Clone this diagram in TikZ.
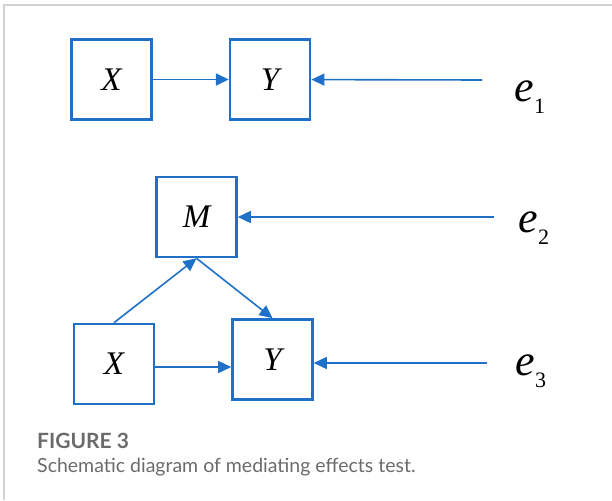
\documentclass[tikz,border=0pt]{standalone}
\usepackage{fontspec}
\setmainfont{Liberation Serif}
\newfontfamily\capfont{Lato}
\usepackage{tikz}
\usetikzlibrary{arrows.meta,positioning}

\definecolor{boxblue}{HTML}{1F70C8}
\definecolor{capgray}{HTML}{6B6B6B}
\newcommand{\errlab}[1]{\textit{e}\kern-0.5pt\raisebox{-0.28em}{\fontsize{22}{22}\selectfont #1}}

\begin{document}
\begin{tikzpicture}[
    x=1pt, y=-1pt,
    >={Triangle[length=13pt,width=12pt]},
    varbox/.style={rectangle, draw=boxblue, line width=2.6pt, minimum width=80pt, minimum height=80pt, inner sep=0pt, font=\fontsize{33}{33}\selectfont\itshape},
    errnode/.style={inner sep=0pt, font=\fontsize{44}{44}\selectfont},
    link/.style={->, draw=boxblue, line width=1.6pt}
]
\useasboundingbox (0,0) rectangle (612,500);
\draw[gray!35, line width=1.5pt] (4,500) -- (4,5) -- (612,5);

% simple model
\node[varbox] (X1) at (111.5,79.5) {X};
\node[varbox] (Y1) [right=76pt of X1] {Y};
\coordinate (s1) at (482,80);
\node[errnode] (e1) at (530,97) {\errlab{1}};

% mediation model
\node[varbox] (M) at (196.5,217) {M};
\node[varbox] (X2) at (114,364) {X};
\node[varbox] (Y2) at (272.5,359.5) {Y};
\coordinate (s2) at (494,217);
\coordinate (s3) at (487,363);
\node[errnode] (e2) at (534,228) {\errlab{2}};
\node[errnode] (e3) at (531,371) {\errlab{3}};

\draw[link] (X1) -- (Y1);
\draw[link] (s1) -- (Y1);
\draw[link] (s2) -- (M);
\draw[link] (X2.north) -- (M.south);
\draw[link] (M.south) -- (Y2.north);
\draw[link] ([yshift=-3pt]X2.east) -- ([yshift=-3pt]X2.east -| Y2.west);
\draw[link] (s3) -- (s3 -| Y2.east);

% caption
\node[anchor=base west, inner sep=0pt, text=capgray, font=\capfont\fontsize{21}{21}\selectfont\bfseries] (fig) at (37,448) {FIGURE 3};
\node[anchor=base west, inner sep=0pt, text=capgray, font=\capfont\fontsize{19.5}{19.5}\selectfont] (cap) at (37,472) {Schematic diagram of mediating effects test.};
\end{tikzpicture}
\end{document}
